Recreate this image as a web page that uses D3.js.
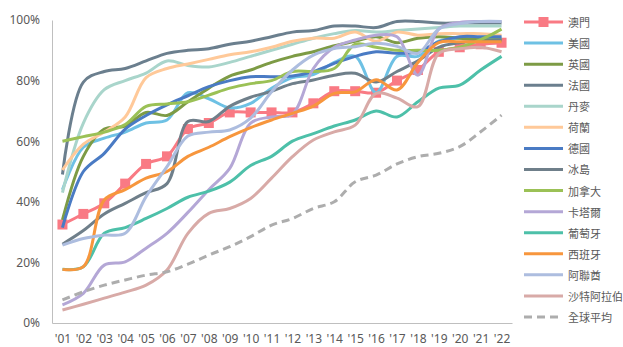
<!DOCTYPE html>
<html>
<head>
<meta charset="utf-8">
<script src="https://cdn.jsdelivr.net/npm/d3@7"></script>
<style>
  body { margin: 0; background: #fff; }
  text { font-family: "Noto Sans", "Noto Sans CJK TC", sans-serif; }
</style>
</head>
<body>
<div id="chart"></div>
<script>
// years on the x axis
const years = ["'01","'02","'03","'04","'05","'06","'07","'08","'09","'10","'11",
               "'12","'13","'14","'15","'16","'17","'18","'19","'20","'21","'22"];

// series values (%)
const macau       = [32.5, 36, 39.5, 46, 52.5, 55, 64, 66, 69.5, 69.5, 69.5, 69.5, 72.5, 76.5, 76.5, 76, 80, 83.5, 89.5, 91, 92, 92.5];
const usa         = [44, 58, 61, 63, 66, 67, 76, 74, 71, 72.5, 77.5, 81, 82, 86, 88, 76, 88, 88, 93, 94, 94, 94];
const uk          = [34, 55, 64, 65, 69.5, 68.5, 73, 77.5, 81.5, 83.5, 86, 88, 89.5, 91.5, 93, 94.5, 92.5, 94, 94.5, 94, 93.5, 93.5];
const france      = [49, 79.5, 83, 84, 86.5, 89, 90, 90.5, 92, 93, 94.5, 96, 96.5, 98, 98, 97.5, 99.5, 99.5, 99, 99, 99, 99];
const denmark     = [43, 66, 77, 80, 82.5, 86.5, 85, 84.5, 86, 88, 90, 92, 94, 95.5, 96.5, 96, 96.5, 97, 97.5, 98, 98, 98];
const netherlands = [50.5, 59, 63, 68, 81, 84, 85.5, 87, 88.5, 89.5, 91, 93, 94, 94, 96, 93, 96, 95, 95.5, 95.5, 95.5, 95];
const germany     = [31.5, 50, 56, 64, 68.5, 72, 75, 78, 80, 81.3, 81.3, 81.5, 83, 85.7, 88, 89.5, 89, 89.5, 92.8, 94.5, 94.5, 94.5];
const iceland     = [26, 30.5, 36, 39.5, 43, 46, 66.5, 66.5, 71.5, 74.5, 76.5, 79, 80.2, 81.8, 82.4, 79.5, 83, 86.5, 91, 92.5, 93, 93.4];
const canada      = [60, 61.5, 63, 65.5, 71.5, 72.3, 73, 75.2, 77.5, 79, 80, 83, 83, 84, 92, 91, 90, 90, 90, 91, 93.5, 97];
const qatar       = [6, 9.8, 19.1, 20.2, 24.7, 29.6, 36.5, 44, 51, 66, 68, 69, 84, 91, 93.4, 95, 94.5, 81.8, 97, 99.2, 99.5, 99.5];
const portugal    = [17.7, 18.6, 29.6, 31.5, 34.5, 37.8, 41.5, 43.5, 46.5, 52, 55, 60, 62.5, 65, 67, 70, 68, 73, 77.5, 78.5, 83.5, 88];
const spain       = [17.7, 18.6, 40.6, 44, 47.8, 50, 55, 58, 61.5, 64.5, 67, 69.2, 71.6, 75.8, 76.3, 80.3, 76.9, 86, 92.5, 92.8, 92.8, 92.8];
const uae         = [25.7, 27.9, 29, 29.6, 41.7, 51.6, 61.7, 63, 63.7, 67.6, 76.3, 83.5, 88.4, 90.6, 91.2, 92.3, 91.3, 89, 97, 98.8, 99.5, 99.5];
const saudi       = [4.3, 6.2, 8.2, 10.2, 12.5, 17.5, 29.6, 36.2, 37.8, 41.1, 47.8, 54.9, 60.4, 63.1, 65.3, 75.8, 74.2, 71.4, 89, 90.5, 91, 89.5];
const worldAvg    = [7.6, 10.3, 12.5, 14.2, 15.8, 16.9, 19.4, 22.4, 25.2, 28.5, 32.3, 34.5, 37.8, 40, 46.6, 48.8, 52.5, 54.9, 56, 58.2, 63.1, 68.6];

const names  = ["澳門","美國","英國","法國","丹麥","荷蘭","德國","冰島","加拿大","卡塔爾","葡萄牙","西班牙","阿聯酋","沙特阿拉伯","全球平均"];
const values = [macau, usa, uk, france, denmark, netherlands, germany, iceland, canada, qatar, portugal, spain, uae, saudi, worldAvg];
const colors = ["#F97A84","#6EC1E4","#7D9B45","#6B7F8E","#A9D5CB","#FFC999","#4A7BC4","#6F7F8A",
                "#9BC156","#B4A7D6","#4DC0A9","#F7963D","#ADBDDF","#D8AAA7","#ADADAD"];

const width = 623, height = 347;
const svg = d3.select("#chart").append("svg")
    .attr("width", width)
    .attr("height", height);

const x = d3.scalePoint()
    .domain(years)
    .range([52, 512])
    .padding(0.5);

const y = d3.scaleLinear()
    .domain([0, 100])
    .range([323, 20]);

// y axis
const yAxis = svg.append("g")
    .attr("transform", "translate(52,0)")
    .call(d3.axisLeft(y).tickValues([0, 20, 40, 60, 80, 100]).tickSize(0).tickPadding(12)
        .tickFormat(d => d + "%"));
yAxis.select(".domain").attr("stroke", "#BFBFBF");
yAxis.selectAll("text").attr("font-size", 12).attr("fill", "#595959")
    .style("font-family", "'Noto Sans', sans-serif");

// x axis
const xAxis = svg.append("g")
    .attr("transform", "translate(0,323)")
    .call(d3.axisBottom(x).tickSize(0).tickPadding(11));
xAxis.select(".domain").attr("stroke", "#BFBFBF");
xAxis.selectAll("text").attr("font-size", 12).attr("fill", "#595959")
    .style("font-family", "'Noto Sans', sans-serif");

const line = d3.line()
    .x((d, i) => x(years[i]))
    .y(d => y(d))
    .curve(d3.curveCatmullRom.alpha(0.5));

// lines, first series at the bottom
values.forEach((vals, k) => {
    svg.append("path")
        .datum(vals)
        .attr("fill", "none")
        .attr("stroke", colors[k])
        .attr("stroke-width", 3)
        .attr("stroke-dasharray", k === 14 ? "8,5" : null)
        .attr("d", line);
    if (k === 0) {
        svg.append("g")
            .selectAll("rect")
            .data(vals)
            .join("rect")
            .attr("x", (d, i) => x(years[i]) - 5)
            .attr("y", d => y(d) - 5)
            .attr("width", 10)
            .attr("height", 10)
            .attr("fill", colors[0]);
    }
});

// legend
const legend = svg.append("g");
names.forEach((name, i) => {
    const ly = 22 + i * 21.07;
    legend.append("line")
        .attr("x1", 524).attr("x2", 563)
        .attr("y1", ly).attr("y2", ly)
        .attr("stroke", colors[i])
        .attr("stroke-width", 3)
        .attr("stroke-dasharray", i === 14 ? "8,5" : null);
    if (i === 0) {
        legend.append("rect")
            .attr("x", 538.5).attr("y", ly - 5)
            .attr("width", 10).attr("height", 10)
            .attr("fill", colors[0]);
    }
    legend.append("text")
        .attr("x", 568)
        .attr("y", ly)
        .attr("dominant-baseline", "central")
        .attr("font-size", 11)
        .attr("fill", "#595959")
        .style("font-family", "'Noto Sans CJK TC', sans-serif")
        .text(name);
});
</script>
</body>
</html>
